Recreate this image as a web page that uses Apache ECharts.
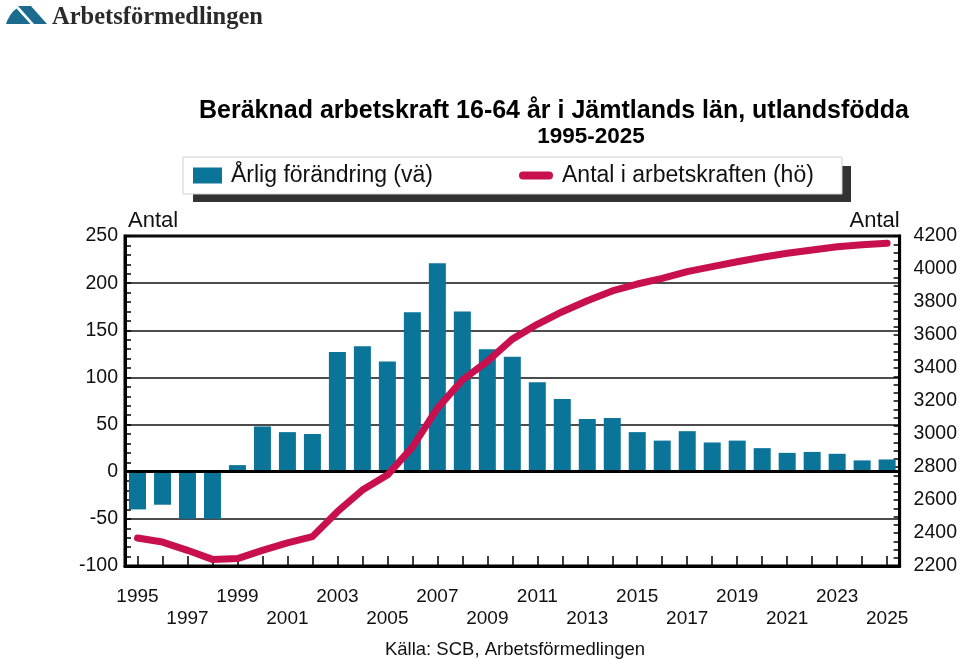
<!DOCTYPE html>
<html>
<head>
<meta charset="utf-8">
<script src="https://cdn.jsdelivr.net/npm/echarts@6/dist/echarts.min.js"></script>
<style>html,body{margin:0;padding:0;background:#fff;}#c{width:960px;height:660px;}</style>
</head>
<body>
<div id="c"></div>
<script>
const years = ['1995','1996','1997','1998','1999','2000','2001','2002','2003','2004','2005','2006','2007','2008','2009','2010','2011','2012','2013','2014','2015','2016','2017','2018','2019','2020','2021','2022','2023','2024','2025'];
const yearlyChange = [-40,-35,-50,-50,7,48,42,40,127,133,117,169,221,170,130,122,95,77,56,57,42,33,43,31,33,25,20,21,19,12,13];
const laborForce = [2370,2345,2295,2240,2245,2295,2340,2378,2529,2660,2751,2920,3155,3327,3440,3575,3665,3741,3808,3867,3909,3943,3984,4014,4044,4071,4095,4115,4135,4147,4156];
const leftAxis = {min:-100, max:250, interval:50};
const rightAxis = {min:2200, max:4200, interval:200};
const seriesNames = ['Årlig förändring (vä)', 'Antal i arbetskraften (hö)'];
const titleText = 'Beräknad arbetskraft 16-64 år i Jämtlands län, utlandsfödda';
const subtitleText = '1995-2025';
const sourceText = 'Källa: SCB, Arbetsförmedlingen';
const logoText = 'Arbetsförmedlingen';
const axisName = 'Antal';

const FONT = '"Liberation Sans", Arial, Helvetica, sans-serif';
const BLUE = '#0a7499';
const RED = '#c8104f';

const chart = echarts.init(document.getElementById('c'), null, {renderer:'canvas'});
chart.setOption({
  animation: false,
  backgroundColor: '#fff',
  textStyle: {fontFamily: FONT, color: '#111'},
  graphic: [
    {type:'polygon', shape:{points:[[6,24],[7.5,20],[10,15.5],[13,11.5],[16.5,8.5],[30.5,24]]}, style:{fill:'#1b6b8f'}},
    {type:'polygon', shape:{points:[[18,6],[31,6],[47,24],[34,24]]}, style:{fill:'#1b6b8f'}},
    {type:'text', x:52, y:18, style:{text:logoText, font:'bold 24.5px "Liberation Serif", "DejaVu Serif", serif', fill:'#2a2a2a', textVerticalAlign:'middle'}},
    {type:'text', x:554, y:111, style:{text:titleText, font:'bold 25px '+FONT, fill:'#000', textAlign:'center', textVerticalAlign:'middle'}},
    {type:'text', x:591, y:137, style:{text:subtitleText, font:'bold 22.5px '+FONT, fill:'#000', textAlign:'center', textVerticalAlign:'middle'}},
    {type:'rect', shape:{x:193, y:166, width:658, height:36}, style:{fill:'#333'}, z:-2},
    {type:'rect', shape:{x:183, y:157, width:659, height:37}, style:{fill:'#fff', stroke:'#cfcfcf', lineWidth:1}, z:-1},
    {type:'text', x:515, y:650, style:{text:sourceText, font:'18.5px '+FONT, fill:'#111', textAlign:'center', textVerticalAlign:'middle'}}
  ],
  legend: [
    {data:[seriesNames[0]], left:193, top:164, padding:0, itemWidth:29, itemHeight:16,
     icon:'rect', textStyle:{fontSize:23, color:'#111', padding:[0,0,0,4]}},
    {data:[seriesNames[1]], left:519, top:164, padding:0, itemWidth:34, itemHeight:8,
     icon:'path://M4,0 L30,0 A4,4 0 0 1 30,8 L4,8 A4,4 0 0 1 4,0 Z', textStyle:{fontSize:23, color:'#111', padding:[0,0,0,4]}}
  ],
  grid: {left:125, right:60, top:236, bottom:94, show:true, borderColor:'#000', borderWidth:3, backgroundColor:'transparent'},
  xAxis: {
    type:'category', data:years, boundaryGap:true,
    axisLine:{show:true, onZero:false, lineStyle:{color:'#000', width:3}},
    axisTick:{show:true, inside:true, alignWithLabel:true, interval:0, length:10, lineStyle:{color:'#000', width:1.5}},
    axisLabel:{interval:0, margin:20, fontSize:19, color:'#111', lineHeight:22,
      formatter:function(v, i){ return i%4===0 ? v : (i%4===2 ? '\n'+v : ''); }},
    splitLine:{show:false}
  },
  yAxis: [
    {type:'value', min:leftAxis.min, max:leftAxis.max, interval:leftAxis.interval, position:'left',
     name:axisName, nameLocation:'end', nameGap:4, nameTextStyle:{fontSize:22, color:'#111', align:'left', padding:[0,0,0,3]},
     axisLine:{show:true, lineStyle:{color:'#000', width:3}},
     axisTick:{show:true, inside:true, length:6, lineStyle:{color:'#000', width:1.5}},
     minorTick:{show:true, splitNumber:5, length:6, lineStyle:{color:'#000', width:1.5}},
     splitLine:{show:true, lineStyle:{color:'#111', width:1.5}},
     axisLabel:{fontSize:19.5, color:'#111', margin:7, formatter:function(v){return String(v);}}},
    {type:'value', min:rightAxis.min, max:rightAxis.max, interval:rightAxis.interval, position:'right',
     name:axisName, nameLocation:'end', nameGap:4, nameTextStyle:{fontSize:22, color:'#111', align:'right', padding:[0,0,0,0]},
     axisLine:{show:true, lineStyle:{color:'#000', width:3}},
     axisTick:{show:true, inside:true, length:6, lineStyle:{color:'#000', width:1.5}},
     minorTick:{show:true, splitNumber:4, length:6, lineStyle:{color:'#000', width:1.5}},
     splitLine:{show:false},
     axisLabel:{fontSize:19.5, color:'#111', margin:14, formatter:function(v){return String(v);}}}
  ],
  series: [
    {name:seriesNames[0], type:'bar', data:yearlyChange, barWidth:17, itemStyle:{color:BLUE},
     markLine:{silent:true, symbol:'none', label:{show:false}, lineStyle:{color:'#000', width:3, type:'solid'}, data:[{yAxis:0}]}},
    {name:seriesNames[1], type:'line', yAxisIndex:1, data:laborForce, symbol:'none', z:5,
     itemStyle:{color:RED}, lineStyle:{color:RED, width:7, cap:'round', join:'round'}}
  ]
});
</script>
</body>
</html>
